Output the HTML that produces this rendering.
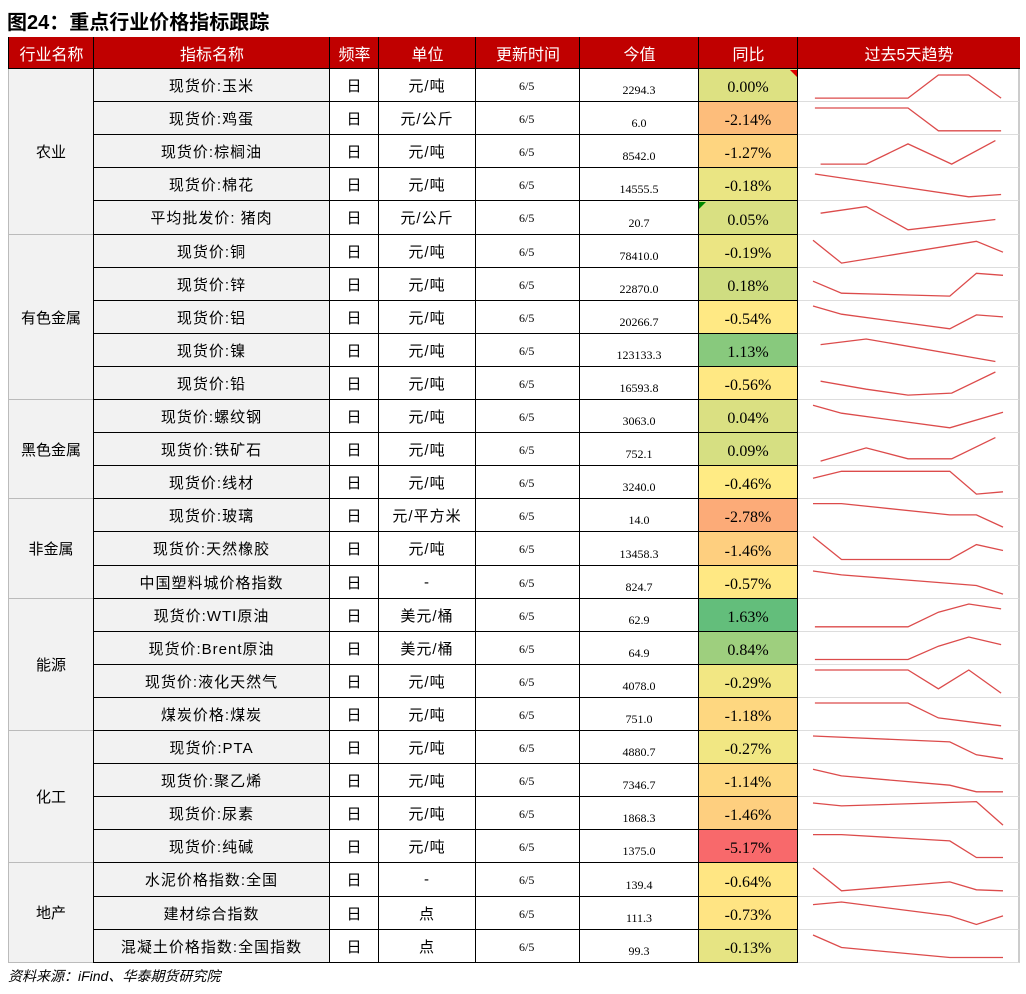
<!DOCTYPE html>
<html><head><meta charset="utf-8">
<style>
body{margin:0;width:1026px;height:994px;background:#fff;position:relative;overflow:hidden;font-family:"Liberation Sans","Noto Sans CJK SC",sans-serif;}
.c{position:absolute;box-sizing:border-box;display:flex;align-items:center;justify-content:center;white-space:nowrap;}
#title{position:absolute;left:7px;top:6px;font-size:20px;font-weight:bold;color:#000;}
#src{position:absolute;left:8px;top:966px;font-size:14px;font-style:italic;color:#000;}
</style></head><body>
<div id="title">图24：重点行业价格指标跟踪</div>
<div id="tbl"></div>
<svg id="spark" width="1026" height="994" style="position:absolute;left:0;top:0;pointer-events:none"></svg>
<div id="src">资料来源：iFind、华泰期货研究院</div>
<script>
const headers=["行业名称","指标名称","频率","单位","更新时间","今值","同比","过去5天趋势"];
const categories=[["农业",5],["有色金属",5],["黑色金属",3],["非金属",3],["能源",4],["化工",4],["地产",3]];
const names=["现货价:玉米","现货价:鸡蛋","现货价:棕榈油","现货价:棉花","平均批发价: 猪肉","现货价:铜","现货价:锌","现货价:铝","现货价:镍","现货价:铅","现货价:螺纹钢","现货价:铁矿石","现货价:线材","现货价:玻璃","现货价:天然橡胶","中国塑料城价格指数","现货价:WTI原油","现货价:Brent原油","现货价:液化天然气","煤炭价格:煤炭","现货价:PTA","现货价:聚乙烯","现货价:尿素","现货价:纯碱","水泥价格指数:全国","建材综合指数","混凝土价格指数:全国指数"];
const units=["元/吨","元/公斤","元/吨","元/吨","元/公斤","元/吨","元/吨","元/吨","元/吨","元/吨","元/吨","元/吨","元/吨","元/平方米","元/吨","-","美元/桶","美元/桶","元/吨","元/吨","元/吨","元/吨","元/吨","元/吨","-","点","点"];
const values=["2294.3","6.0","8542.0","14555.5","20.7","78410.0","22870.0","20266.7","123133.3","16593.8","3063.0","752.1","3240.0","14.0","13458.3","824.7","62.9","64.9","4078.0","751.0","4880.7","7346.7","1868.3","1375.0","139.4","111.3","99.3"];
const yoy=[0.00,-2.14,-1.27,-0.18,0.05,-0.19,0.18,-0.54,1.13,-0.56,0.04,0.09,-0.46,-2.78,-1.46,-0.57,1.63,0.84,-0.29,-1.18,-0.27,-1.14,-1.46,-5.17,-0.64,-0.73,-0.13];
// sparkline data: x = position in window (0-100), v = level (0-100)
const sparkX=[[1,50,66,82,99],[1,50,66,99],[4,28,50,73,96],[1,82,99],[4,28,50,96],[0,15,86,100],[0,15,72,86,100],[0,15,72,86,100],[4,28,96],
[4,28,50,73,96],[0,15,72,100],[4,28,50,73,96],[0,15,72,86,100],[0,15,72,86,100],[0,15,72,86,100],[0,15,86,100],[1,50,66,82,99],[1,50,66,82,99],
[1,50,66,82,99],[1,50,66,99],[0,72,86,100],[0,15,72,86,100],[0,15,86,100],[0,15,72,86,100],[0,15,72,86,100],[0,15,72,86,100],[0,15,72,100]];
const sparkV=[[12,12,82,82,12],[82,82,13,13],[12,12,73,12,83],[82,13,20],[63,83,13,44],[84,15,81,48],[60,24,15,84,78],[85,60,16,58,52],[68,85,17],
[57,33,15,21,85],[84,60,16,63],[15,55,22,22,86],[63,84,84,15,22],[86,86,52,52,15],[86,17,17,62,44],[85,73,41,15],[16,16,60,85,70],[17,17,57,85,62],
[85,85,28,85,15],[85,85,40,16],[85,67,28,16],[84,64,36,16,16],[82,73,86,15],[86,86,67,17,17],[85,16,43,19,16],[77,85,43,17,43],[85,47,17,17]];

const cols=[8,93,329,378,475,579,698,797,1020];
const top0=37,hH=32,rowH=33.1,body0=69;
const T=document.getElementById('tbl');
function ry(i){return Math.round(body0+i*rowH);}
function cell(x,y,w,h,txt,st){const d=document.createElement('div');d.className='c';
d.style.cssText=`left:${x}px;top:${y}px;width:${w}px;height:${h}px;`+st;d.textContent=txt;T.appendChild(d);return d;}
const hnames=["header-industry","header-indicator","header-frequency","header-unit","header-update-time","header-value","header-yoy","header-trend"];
headers.forEach((h,i)=>{const d=cell(cols[i],top0,cols[i+1]-cols[i]+(i<7?1:0),hH,h,"background:#C00000;color:#fff;font-size:16px;border-left:1px solid #000;border-bottom:1px solid #000;");

});
let r=0;
categories.forEach(([n,k])=>{const y=ry(r);const d=cell(cols[0],y,cols[1]-cols[0],ry(r+k)-y,n,"background:#F2F2F2;font-size:15px;border-left:1px solid #bbb;border-bottom:1px solid #bbb;");

r+=k;});
const sorted=[...yoy].sort((a,b)=>a-b);const mn=sorted[0],mx=sorted[sorted.length-1],md=sorted[Math.floor(sorted.length/2)];
function mix(a,b,t){return a.map((v,i)=>Math.round(v+(b[i]-v)*t));}
function col(v){const R=[248,105,107],Y=[255,235,132],G=[99,190,123];const c=v<=md?mix(R,Y,(v-mn)/(md-mn)):mix(Y,G,(v-md)/(mx-md));return `rgb(${c.join(',')})`;}
const sv=document.getElementById('spark');const NS="http://www.w3.org/2000/svg";
function sx(p){return 813+p/100*190;}
for(let i=0;i<names.length;i++){
 const y=ry(i);const h=ry(i+1)-y;const bs="border-bottom:1px solid #000;border-left:1px solid #000;";
 let d=cell(cols[1],y,cols[2]-cols[1],h,names[i],"background:#F2F2F2;font-size:15px;letter-spacing:1px;"+bs);
 
 
 d=cell(cols[2],y,cols[3]-cols[2],h,"日","font-size:15px;"+bs);
 
 
 d=cell(cols[3],y,cols[4]-cols[3],h,units[i],"font-size:15px;letter-spacing:1px;"+bs);
 
 
 d=cell(cols[4],y,cols[5]-cols[4],h,"6/5","font-family:'Liberation Serif',serif;font-size:12px;align-items:flex-start;padding-top:10px;justify-content:flex-start;padding-left:43px;"+bs);
 
 
 d=cell(cols[5],y,cols[6]-cols[5],h,values[i],"font-family:'Liberation Serif',serif;font-size:12px;align-items:flex-end;padding-bottom:3px;"+bs);
 
 
 d=cell(cols[6],y,cols[7]-cols[6]+1,h,yoy[i].toFixed(2)+"%","font-family:'Liberation Serif',serif;font-size:16px;padding-top:6px;background:"+col(yoy[i])+";border-bottom:1px solid #000;border-left:1px solid #000;border-right:1px solid #000;");
 
 
 d=cell(cols[7]+1,y,cols[8]-cols[7]-1,h,"","border-bottom:1px solid #ddd;border-right:2px solid #ccc;");
 
 
 const pts=sparkX[i].map((p,j)=>`${sx(p).toFixed(1)},${(y+(100-sparkV[i][j])/100*rowH).toFixed(1)}`).join(' ');
 const pl=document.createElementNS(NS,'polyline');pl.setAttribute('points',pts);pl.setAttribute('fill','none');pl.setAttribute('stroke','#DC4B4B');pl.setAttribute('stroke-width','1.3');
 
 
 sv.appendChild(pl);
}
const t1=document.createElementNS(NS,'polygon');t1.setAttribute('points','790,70 797,70 797,77');t1.setAttribute('fill','#d00');

sv.appendChild(t1);
const t2=document.createElementNS(NS,'polygon');t2.setAttribute('points','699,202 706,202 699,209');t2.setAttribute('fill','#080');

sv.appendChild(t2);
</script>
</body></html>
